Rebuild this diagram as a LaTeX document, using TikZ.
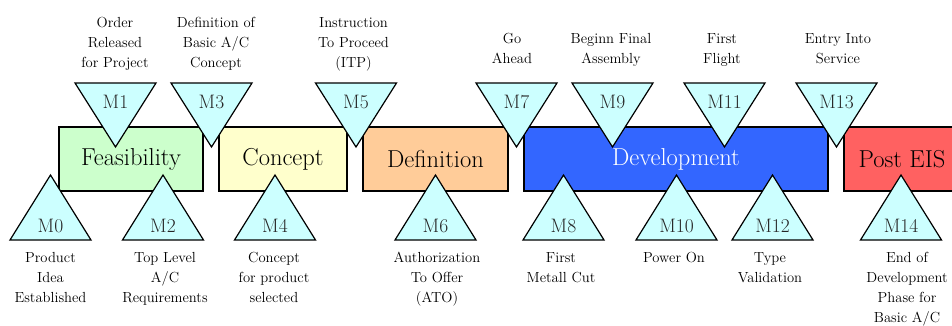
\documentclass[tikz,border=0pt]{standalone}
\usepackage{fontspec}
\usepackage{tikz}

\definecolor{msfill}{HTML}{CCFFFF}
\definecolor{feasfill}{HTML}{CCFFCC}
\definecolor{concfill}{HTML}{FFFFCC}
\definecolor{defifill}{HTML}{FFCC99}
\definecolor{devfill}{HTML}{3366FF}
\definecolor{postfill}{HTML}{FF6161}

\begin{document}
\begin{tikzpicture}[x=1pt, y=1pt,
    phase/.style={draw=black, line width=1.2pt, minimum height=64pt, inner sep=0pt, font=\fontsize{24.5}{28}\selectfont},
    ms/.style={draw=black, line width=1.2pt, fill=msfill, line join=miter},
    mslabel/.style={font=\fontsize{19.5}{22}\selectfont, text=black!85, inner sep=0pt},
    note/.style={align=center, anchor=north, font=\fontsize{14.6}{20}\selectfont, inner sep=0pt}]
    \useasboundingbox (0,0) rectangle (952,325);
    % phases of the programme
    \node[phase, fill=feasfill, minimum width=144pt] (feas) at (131,166) {Feasibility};
    \node[phase, fill=concfill, minimum width=128pt] (conc) at (283,166) {Concept};
    \node[phase, fill=defifill, minimum width=145pt] (defi) at (435.5,166) {Definition};
    \node[phase, fill=devfill, minimum width=304pt, text=white] (dev) at (676,166) {Development};
    \node[phase, fill=postfill, minimum width=116pt] (post) at (902,166) {Post EIS};
    % odd milestones, pointing down onto the phases
    \foreach \x/\n in {115.5/1, 211.5/3, 356/5, 516.5/7, 612.5/9, 724.5/11, 836.5/13} {
        \draw[ms] (\x-40.5,242) -- (\x+40.5,242) -- (\x,178) -- cycle;
        \node[mslabel] (M\n) at (\x,223.5) {M\n};
    }
    % even milestones, pointing up from below
    \foreach \x/\n in {50.5/0, 163/2, 275/4, 435.5/6, 563.5/8, 676.5/10, 772.5/12, 901/14} {
        \draw[ms] (\x-40.5,85) -- (\x+40.5,85) -- (\x,150) -- cycle;
        \node[mslabel] (M\n) at (\x,99.3) {M\n};
    }
    % what each milestone stands for
    \node[note] (t1) at (115,307.5) {Order\\Released\\for Project};
    \node[note] (t3) at (216,307.5) {Definition of\\Basic A/C\\Concept};
    \node[note] (t5) at (353.5,307.5) {Instruction\\To Proceed\\(ITP)};
    \node[note] (t7) at (512,291.5) {Go\\Ahead};
    \node[note] (t9) at (611,291.5) {Beginn Final\\Assembly};
    \node[note] (t11) at (722,291.5) {First\\Flight};
    \node[note] (t13) at (838,291.5) {Entry Into\\Service};
    \node[note] (t0) at (50.5,73) {Product\\Idea\\Established};
    \node[note] (t2) at (165,73) {Top Level\\A/C\\Requirements};
    \node[note] (t4) at (274,73) {Concept\\for product\\selected};
    \node[note] (t6) at (437,73) {Authorization\\To Offer\\(ATO)};
    \node[note] (t8) at (561,73) {First\\Metall Cut};
    \node[note] (t10) at (674,73) {Power On};
    \node[note] (t12) at (770,73) {Type\\Validation};
    \node[note] (t14) at (907,73) {End of\\Development\\Phase for\\Basic A/C};
\end{tikzpicture}
\end{document}
